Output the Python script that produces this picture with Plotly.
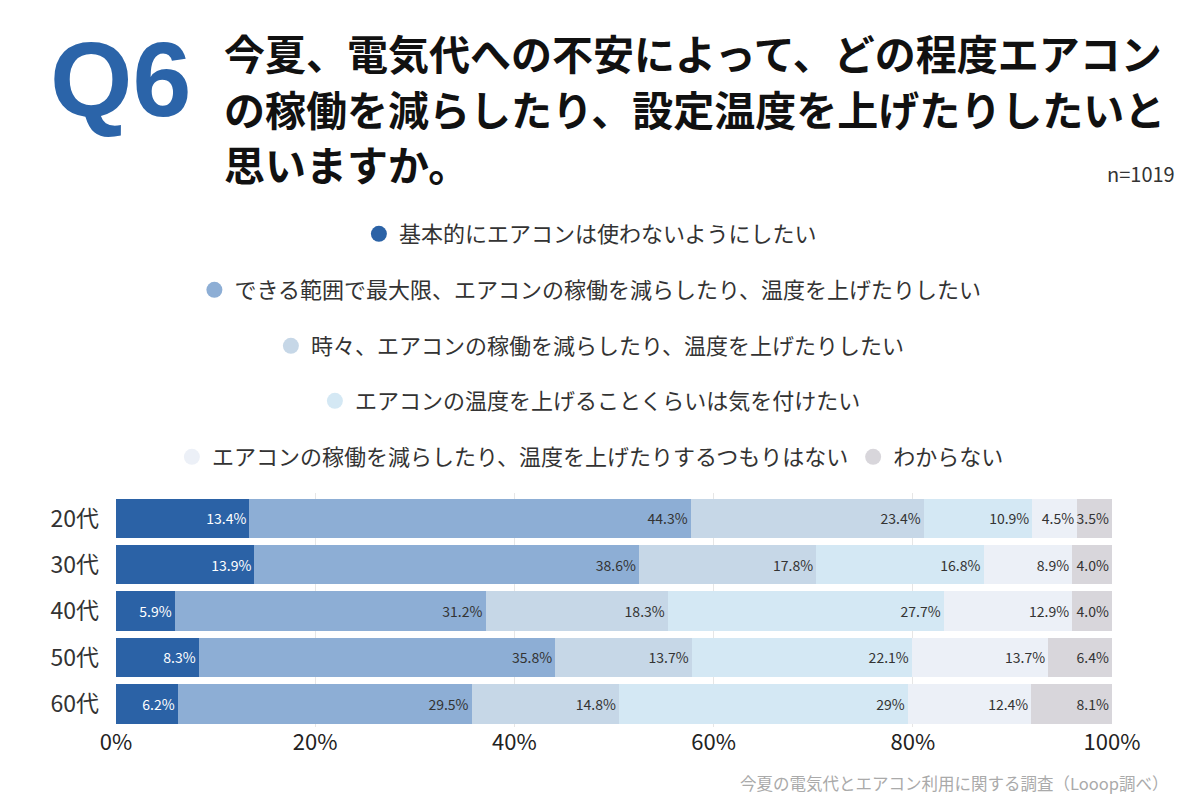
import plotly.graph_objects as go

# ---- data ----
ages = ["20代", "30代", "40代", "50代", "60代"]
series_names = [
    "基本的にエアコンは使わないようにしたい",
    "できる範囲で最大限、エアコンの稼働を減らしたり、温度を上げたりしたい",
    "時々、エアコンの稼働を減らしたり、温度を上げたりしたい",
    "エアコンの温度を上げることくらいは気を付けたい",
    "エアコンの稼働を減らしたり、温度を上げたりするつもりはない",
    "わからない",
]
s1 = [13.4, 13.9, 5.9, 8.3, 6.2]
s2 = [44.3, 38.6, 31.2, 35.8, 29.5]
s3 = [23.4, 17.8, 18.3, 13.7, 14.8]
s4 = [10.9, 16.8, 27.7, 22.1, 29]
s5 = [4.5, 8.9, 12.9, 13.7, 12.4]
s6 = [3.5, 4.0, 4.0, 6.4, 8.1]
series_values = [s1, s2, s3, s4, s5, s6]
x_ticks = [0, 20, 40, 60, 80, 100]
x_tick_labels = ["0%", "20%", "40%", "60%", "80%", "100%"]

# ---- styles ----
colors = ["#2B62A6", "#8DAED5", "#C6D7E7", "#D4E8F4", "#ECF0F7", "#D8D6DB"]
text_colors = ["#ffffff", "#333333", "#333333", "#333333", "#333333", "#333333"]
FONT = "Noto Sans CJK JP"


def fmt(v):
    return f"{v}%" if isinstance(v, int) else f"{v:.1f}%"


fig = go.Figure()

for i, (name, vals) in enumerate(zip(series_names, series_values)):
    fig.add_trace(go.Bar(
        y=ages, x=vals, orientation="h", name=name,
        marker=dict(color=colors[i], line=dict(width=0)),
        text=[fmt(v) for v in vals],
        textposition="inside", insidetextanchor="end",
        constraintext="none", textangle=0,
        textfont=dict(family=FONT, size=14, color=text_colors[i]),
        showlegend=False, hoverinfo="skip",
    ))

# legend-only marker traces (placed outside the visible x range, clipped)
legend_ids = ["legend", "legend2", "legend3", "legend4", "legend5", "legend5"]
for i, name in enumerate(series_names):
    fig.add_trace(go.Scatter(
        x=[-50], y=[ages[0]], mode="markers", name=name,
        marker=dict(symbol="circle", size=22, color=colors[i]),
        legend=legend_ids[i], showlegend=True, cliponaxis=True,
        hoverinfo="skip",
    ))

legend_rows_y = [234, 290, 346, 401, 457]
legend_common = dict(
    xref="container", yref="container", x=0.492, xanchor="center",
    yanchor="middle", orientation="h", bgcolor="rgba(0,0,0,0)",
    font=dict(family=FONT, size=22, color="#333333"),
    itemsizing="trace",
)
legends = {}
for k, lid in enumerate(["legend", "legend2", "legend3", "legend4", "legend5"]):
    legends[lid] = dict(legend_common, y=1 - legend_rows_y[k] / 800)

fig.update_layout(
    width=1200, height=800,
    margin=dict(l=116, r=88, t=493, b=73, autoexpand=False),
    paper_bgcolor="white", plot_bgcolor="white",
    barmode="stack", bargap=0.15,
    font=dict(family=FONT, color="#333333"),
    xaxis=dict(
        range=[0, 100], tickvals=x_ticks, ticktext=x_tick_labels,
        showgrid=True, gridcolor="#e6e6e6", gridwidth=1, zeroline=False,
        showline=False, ticks="",
        tickfont=dict(family=FONT, size=22, color="#222222"),
        fixedrange=True,
    ),
    yaxis=dict(
        autorange="reversed", showgrid=False, zeroline=False, showline=False,
        ticks="", ticklabelstandoff=16,
        tickfont=dict(family=FONT, size=23, color="#333333"),
        fixedrange=True,
    ),
    **legends,
)

# ---- titles / annotations ----
fig.add_annotation(
    text="<b>Q6</b>", xref="paper", yref="paper",
    x=(48 - 116) / 996, y=1 + (493 - 79) / 234, xanchor="left", yanchor="middle",
    showarrow=False,
    font=dict(family="Liberation Sans", size=106, color="#2B64A9"),
)
title_lines = [
    "今夏、電気代への不安によって、どの程度エアコン",
    "の稼働を減らしたり、設定温度を上げたりしたいと",
    "思いますか。",
]
title_y = [52, 108, 163]
for line, yy in zip(title_lines, title_y):
    fig.add_annotation(
        text=f"<b>{line}</b>", xref="paper", yref="paper",
        x=(222 - 116) / 996, y=1 + (493 - yy) / 234,
        xanchor="left", yanchor="middle", showarrow=False,
        font=dict(family=FONT, size=41, color="#111111"),
    )
fig.add_annotation(
    text="n=1019", xref="paper", yref="paper",
    x=(1177 - 116) / 996, y=1 + (493 - 173) / 234,
    xanchor="right", yanchor="middle", showarrow=False,
    font=dict(family=FONT, size=20, color="#333333"),
)
fig.add_annotation(
    text="今夏の電気代とエアコン利用に関する調査（Looop調べ）",
    xref="paper", yref="paper",
    x=(1170 - 116) / 996, y=-(783 - 727) / 234,
    xanchor="right", yanchor="middle", showarrow=False,
    font=dict(family=FONT, size=16.5, color="#aaaaaa"),
)

fig.write_html("out.html")
